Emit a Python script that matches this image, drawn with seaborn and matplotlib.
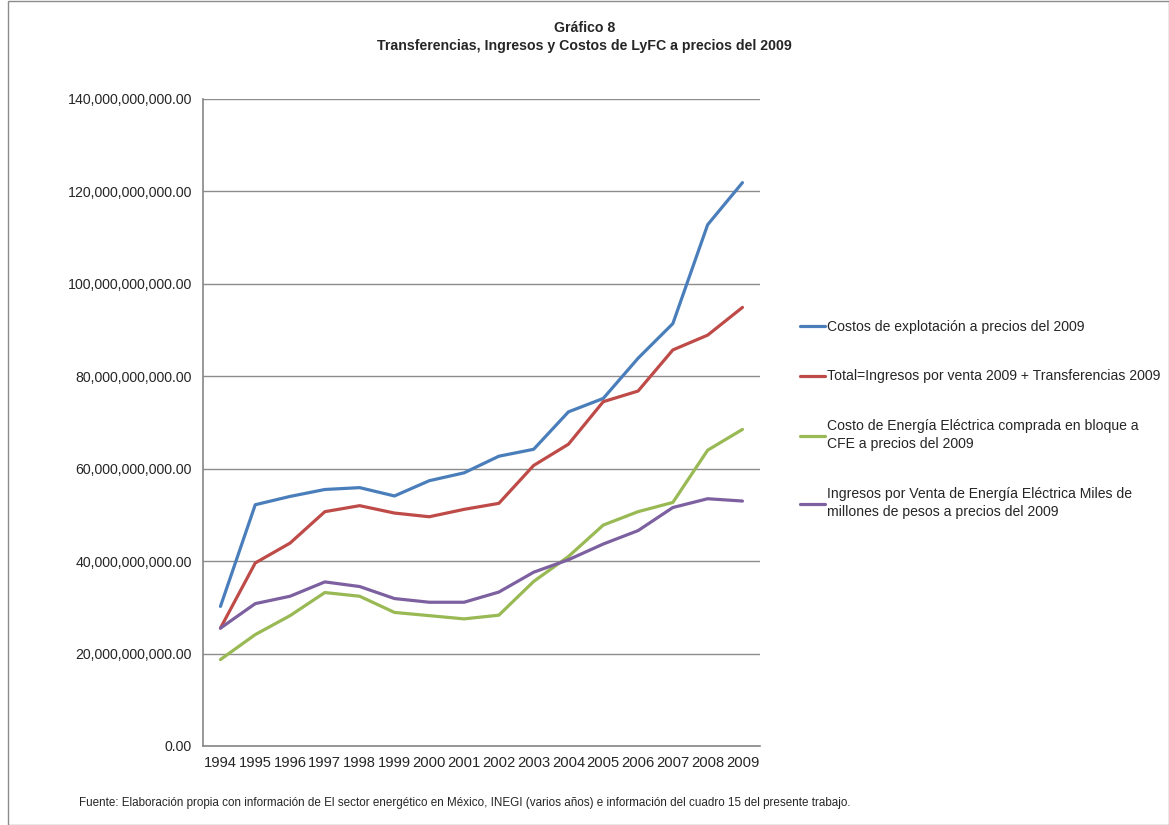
import pandas as pd
import matplotlib.pyplot as plt
import matplotlib.ticker as mticker
import seaborn as sns

# Data (miles de millones de pesos, 2009 prices)
years = list(range(1994, 2010))
costos_explotacion = [30.2, 52.2, 54.0, 55.5, 55.9, 54.1, 57.4, 59.1, 62.7, 64.2,
                      72.3, 75.2, 83.9, 91.4, 112.8, 121.9]
total_ingresos = [25.5, 39.6, 43.9, 50.7, 52.0, 50.4, 49.6, 51.2, 52.5, 60.7,
                  65.3, 74.5, 76.8, 85.7, 88.9, 94.9]
costo_energia_cfe = [18.7, 24.1, 28.2, 33.2, 32.4, 28.9, 28.2, 27.5, 28.3, 35.6,
                     41.0, 47.8, 50.7, 52.7, 64.0, 68.5]
ingresos_venta = [25.5, 30.8, 32.4, 35.5, 34.5, 31.9, 31.1, 31.1, 33.3, 37.6,
                  40.3, 43.7, 46.6, 51.6, 53.5, 53.0]

labels = [
    "Costos de explotación a precios del 2009",
    "Total=Ingresos por venta 2009 + Transferencias 2009",
    "Costo de Energía Eléctrica comprada en bloque a\nCFE a precios del 2009",
    "Ingresos por Venta de Energía Eléctrica Miles de\nmillones de pesos a precios del 2009",
]
colors = ["#4A7EBB", "#BE4B48", "#98B954", "#7D60A0"]

series = [costos_explotacion, total_ingresos, costo_energia_cfe, ingresos_venta]
rows = []
for lab, vals in zip(labels, series):
    for y, v in zip(years, vals):
        rows.append({"year": y, "value": v * 1e9, "serie": lab})
df = pd.DataFrame(rows)

sns.set_style("white")
plt.rcParams['font.family'] = ['Liberation Sans', 'DejaVu Sans']

fig = plt.figure(figsize=(11.69, 8.25), dpi=100)
ax = fig.add_axes([0.1737, 0.0958, 0.4763, 0.7842])

sns.lineplot(data=df, x="year", y="value", hue="serie", hue_order=labels,
             palette=colors, linewidth=2.3, ax=ax, legend=True)

ax.set_xlim(1993.5, 2009.5)
ax.set_ylim(0, 140e9)
ax.set_yticks([i * 20e9 for i in range(8)])
ax.yaxis.set_major_formatter(mticker.FuncFormatter(lambda v, p: f"{v:,.2f}"))
ax.set_xticks(years)
ax.set_xticks([y + 0.5 for y in range(1993, 2010)], minor=True)
ax.tick_params(axis='x', which='major', length=0, labelsize=10.6, pad=7)
ax.tick_params(axis='x', which='minor', length=5, color='#868686', direction='out')
ax.tick_params(axis='y', length=5, color='#868686', direction='out', labelsize=10.2, pad=3)
ax.set_xlabel("")
ax.set_ylabel("")
ax.grid(axis='y', color='#8c8c8c', linewidth=1)
for s in ['top', 'right']:
    ax.spines[s].set_visible(False)
for s in ['left', 'bottom']:
    ax.spines[s].set_color('#868686')
    ax.spines[s].set_linewidth(1.2)

handles, labs = ax.get_legend_handles_labels()
leg = ax.legend(handles, labs, loc='center left', bbox_to_anchor=(0.684, 0.491),
                bbox_transform=fig.transFigure, frameon=False, fontsize=10.1,
                labelspacing=2.5, handlelength=1.8, handletextpad=0.15,
                borderpad=0, borderaxespad=0)
for t in leg.get_texts():
    t.set_linespacing(1.45)

fig.text(0.5, 0.966, "Gráfico 8", ha='center', va='center', fontsize=10.2, fontweight='bold')
fig.text(0.5, 0.944, "Transferencias, Ingresos y Costos de LyFC a precios del 2009",
         ha='center', va='center', fontsize=10.2, fontweight='bold')
fig.text(0.068, 0.027, "Fuente: Elaboración propia con información de El sector energético en México, "
         "INEGI (varios años) e información del cuadro 15 del presente trabajo.",
         ha='left', va='center', fontsize=8.4)

# thin frame around the chart
fig.patches.append(plt.Rectangle((8 / 1169, 0), 1 - 8 / 1169, 1 - 1 / 825,
                                 transform=fig.transFigure, fill=False,
                                 edgecolor='#8c8c8c', linewidth=1))

fig.savefig("out.png", dpi=100)
